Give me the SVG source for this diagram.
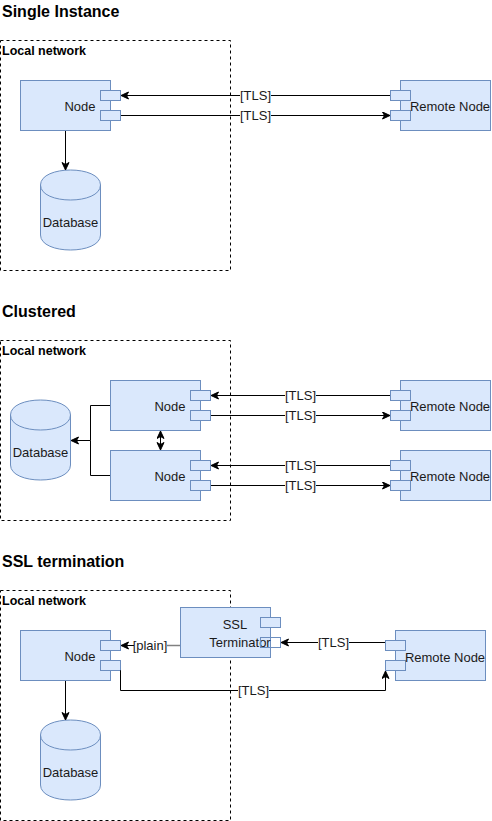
<svg xmlns="http://www.w3.org/2000/svg" width="492" height="821" viewBox="0 0 492 821">
<style>
.title{font-family:"Liberation Sans",Arial,sans-serif;font-weight:bold;font-size:16px;fill:#000}
.grp{fill:none;stroke:#000;stroke-width:1;stroke-dasharray:3 3}
.grplbl{font-family:"Liberation Sans",Arial,sans-serif;font-weight:bold;font-size:12.5px;fill:#000}
.box{fill:#dae8fc;stroke:#6c8ebf;stroke-width:1}
.txt{font-family:"Liberation Sans",Arial,sans-serif;font-size:13px;fill:#1a1a1a;text-anchor:middle}
.lbl{font-family:"Liberation Sans",Arial,sans-serif;font-size:13px;fill:#1a1a1a;text-anchor:middle}
.edge{fill:none;stroke:#000;stroke-width:1}
.bg{fill:#fff}
</style>
<defs>
<marker id="arr" markerWidth="10" markerHeight="10" refX="8" refY="4" orient="auto" markerUnits="userSpaceOnUse">
<path d="M0.5,0.5 L8,4 L0.5,7.5 L2.5,4 z" fill="#000" stroke="#000" stroke-width="1"/>
</marker>
<marker id="arrs" markerWidth="10" markerHeight="10" refX="8" refY="4" orient="auto-start-reverse" markerUnits="userSpaceOnUse">
<path d="M0.5,0.5 L8,4 L0.5,7.5 L2.5,4 z" fill="#000" stroke="#000" stroke-width="1"/>
</marker>
</defs>

<!-- ===== Section 1: Single Instance ===== -->
<text class="title" x="2" y="16.5">Single Instance</text>
<g id="s1-local">
<rect class="grp" x="0.5" y="40.5" width="230" height="230"/>
<text class="grplbl" x="2" y="54.5">Local network</text>
</g>

<g id="s1-node">
<rect class="box" x="20.5" y="80.5" width="90" height="50"/>
<rect class="box" x="100.5" y="90.5" width="20" height="10"/>
<rect class="box" x="100.5" y="110.5" width="20" height="10"/>
<text class="txt" x="80" y="110.5">Node</text>
</g>
<g id="s1-db">
<path class="box" d="M40.5,185 C40.5,165 100.5,165 100.5,185 L100.5,235 C100.5,255 40.5,255 40.5,235 Z"/>
<path class="box" style="fill:none" d="M40.5,185 C40.5,205 100.5,205 100.5,185"/>
<text class="txt" x="70.5" y="226.5">Database</text>
</g>
<g id="s1-remote">
<rect class="box" x="400.5" y="80.5" width="90" height="50"/>
<rect class="box" x="390.5" y="90.5" width="20" height="10"/>
<rect class="box" x="390.5" y="110.5" width="20" height="10"/>
<text class="txt" x="450" y="110.5">Remote Node</text>
</g>

<g id="s1-edges">
<line class="edge" x1="390" y1="95.5" x2="121" y2="95.5" marker-end="url(#arr)"/>
<rect class="bg" x="240" y="89" width="31" height="13"/>
<text class="lbl" x="255.5" y="100">[TLS]</text>
<line class="edge" x1="121" y1="115.5" x2="390" y2="115.5" marker-end="url(#arr)"/>
<rect class="bg" x="240" y="109" width="31" height="13"/>
<text class="lbl" x="255.5" y="120">[TLS]</text>
<line class="edge" x1="65.5" y1="131" x2="65.5" y2="170" marker-end="url(#arr)"/>
</g>

<!-- ===== Section 2: Clustered ===== -->
<text class="title" x="2" y="316.5">Clustered</text>
<g id="s2-local">
<rect class="grp" x="0.5" y="340.5" width="230" height="180"/>
<text class="grplbl" x="2" y="354.5">Local network</text>
</g>
<g id="s2-db">
<path class="box" d="M10.5,415 C10.5,395 70.5,395 70.5,415 L70.5,465 C70.5,485 10.5,485 10.5,465 Z"/>
<path class="box" style="fill:none" d="M10.5,415 C10.5,435 70.5,435 70.5,415"/>
<text class="txt" x="40.5" y="456.5">Database</text>
</g>
<g id="s2-node1">
<rect class="box" x="110.5" y="380.5" width="90" height="50"/>
<rect class="box" x="190.5" y="390.5" width="20" height="10"/>
<rect class="box" x="190.5" y="410.5" width="20" height="10"/>
<text class="txt" x="170" y="410.5">Node</text>
</g>
<g id="s2-node2">
<rect class="box" x="110.5" y="450.5" width="90" height="50"/>
<rect class="box" x="190.5" y="460.5" width="20" height="10"/>
<rect class="box" x="190.5" y="480.5" width="20" height="10"/>
<text class="txt" x="170" y="480.5">Node</text>
</g>
<g id="s2-remote1">
<rect class="box" x="400.5" y="380.5" width="90" height="50"/>
<rect class="box" x="390.5" y="390.5" width="20" height="10"/>
<rect class="box" x="390.5" y="410.5" width="20" height="10"/>
<text class="txt" x="450" y="410.5">Remote Node</text>
</g>
<g id="s2-remote2">
<rect class="box" x="400.5" y="450.5" width="90" height="50"/>
<rect class="box" x="390.5" y="460.5" width="20" height="10"/>
<rect class="box" x="390.5" y="480.5" width="20" height="10"/>
<text class="txt" x="450" y="480.5">Remote Node</text>
</g>

<g id="s2-edges">
<path class="edge" d="M110,405.5 H90.5 V440.5 H71" marker-end="url(#arr)"/>
<path class="edge" d="M110,475.5 H90.5 V440.5"/>
<line class="edge" x1="160.5" y1="431" x2="160.5" y2="450" marker-start="url(#arrs)" marker-end="url(#arrs)"/>
<line class="edge" x1="390" y1="395.5" x2="211" y2="395.5" marker-end="url(#arr)"/>
<rect class="bg" x="285" y="389" width="31" height="13"/>
<text class="lbl" x="300.5" y="400">[TLS]</text>
<line class="edge" x1="211" y1="415.5" x2="390" y2="415.5" marker-end="url(#arr)"/>
<rect class="bg" x="285" y="409" width="31" height="13"/>
<text class="lbl" x="300.5" y="420">[TLS]</text>
<line class="edge" x1="390" y1="465.5" x2="211" y2="465.5" marker-end="url(#arr)"/>
<rect class="bg" x="285" y="459" width="31" height="13"/>
<text class="lbl" x="300.5" y="470">[TLS]</text>
<line class="edge" x1="211" y1="485.5" x2="390" y2="485.5" marker-end="url(#arr)"/>
<rect class="bg" x="285" y="479" width="31" height="13"/>
<text class="lbl" x="300.5" y="490">[TLS]</text>
</g>

<!-- ===== Section 3: SSL termination ===== -->
<text class="title" x="2" y="566.5">SSL termination</text>
<g id="s3-local">
<rect class="grp" x="0.5" y="590.5" width="230" height="230"/>
<text class="grplbl" x="2" y="604.5">Local network</text>
</g>
<g id="s3-node">
<rect class="box" x="20.5" y="630.5" width="90" height="50"/>
<rect class="box" x="100.5" y="640.5" width="20" height="10"/>
<rect class="box" x="100.5" y="660.5" width="20" height="10"/>
<text class="txt" x="80" y="660.5">Node</text>
</g>
<g id="s3-db">
<path class="box" d="M40.5,735 C40.5,715 100.5,715 100.5,735 L100.5,785 C100.5,805 40.5,805 40.5,785 Z"/>
<path class="box" style="fill:none" d="M40.5,735 C40.5,755 100.5,755 100.5,735"/>
<text class="txt" x="70.5" y="776.5">Database</text>
</g>
<g id="s3-ssl">
<rect class="box" x="180.5" y="607.5" width="90" height="50"/>
<rect class="box" x="260.5" y="617.5" width="20" height="10"/>
<text class="txt" x="235" y="629">SSL</text>
<text class="txt" x="240" y="646.5">Terminator</text>
<rect class="box" style="fill:none" x="260.5" y="637.5" width="20" height="10"/>
</g>
<g id="s3-remote">
<rect class="box" x="395.5" y="630.5" width="90" height="50"/>
<rect class="box" x="385.5" y="640.5" width="20" height="10"/>
<rect class="box" x="385.5" y="660.5" width="20" height="10"/>
<text class="txt" x="445" y="661.5">Remote Node</text>
</g>

<g id="s3-edges">
<line x1="167" y1="645.5" x2="180" y2="645.5" stroke="#808080" stroke-width="1.5"/>
<line class="edge" x1="134" y1="645.5" x2="121" y2="645.5" marker-end="url(#arr)"/>
<text class="lbl" x="150" y="650">[plain]</text>
<line class="edge" x1="385" y1="642.5" x2="281" y2="642.5" marker-end="url(#arr)"/>
<rect class="bg" x="318" y="636" width="31" height="13"/>
<text class="lbl" x="333.5" y="647">[TLS]</text>
<path class="edge" d="M121,670.5 H120.5 V690.5 H385.5 V671" marker-end="url(#arr)"/>
<rect class="bg" x="238" y="684" width="31" height="13"/>
<text class="lbl" x="253.5" y="695">[TLS]</text>
<line class="edge" x1="65.5" y1="681" x2="65.5" y2="720" marker-end="url(#arr)"/>
</g>
</svg>
